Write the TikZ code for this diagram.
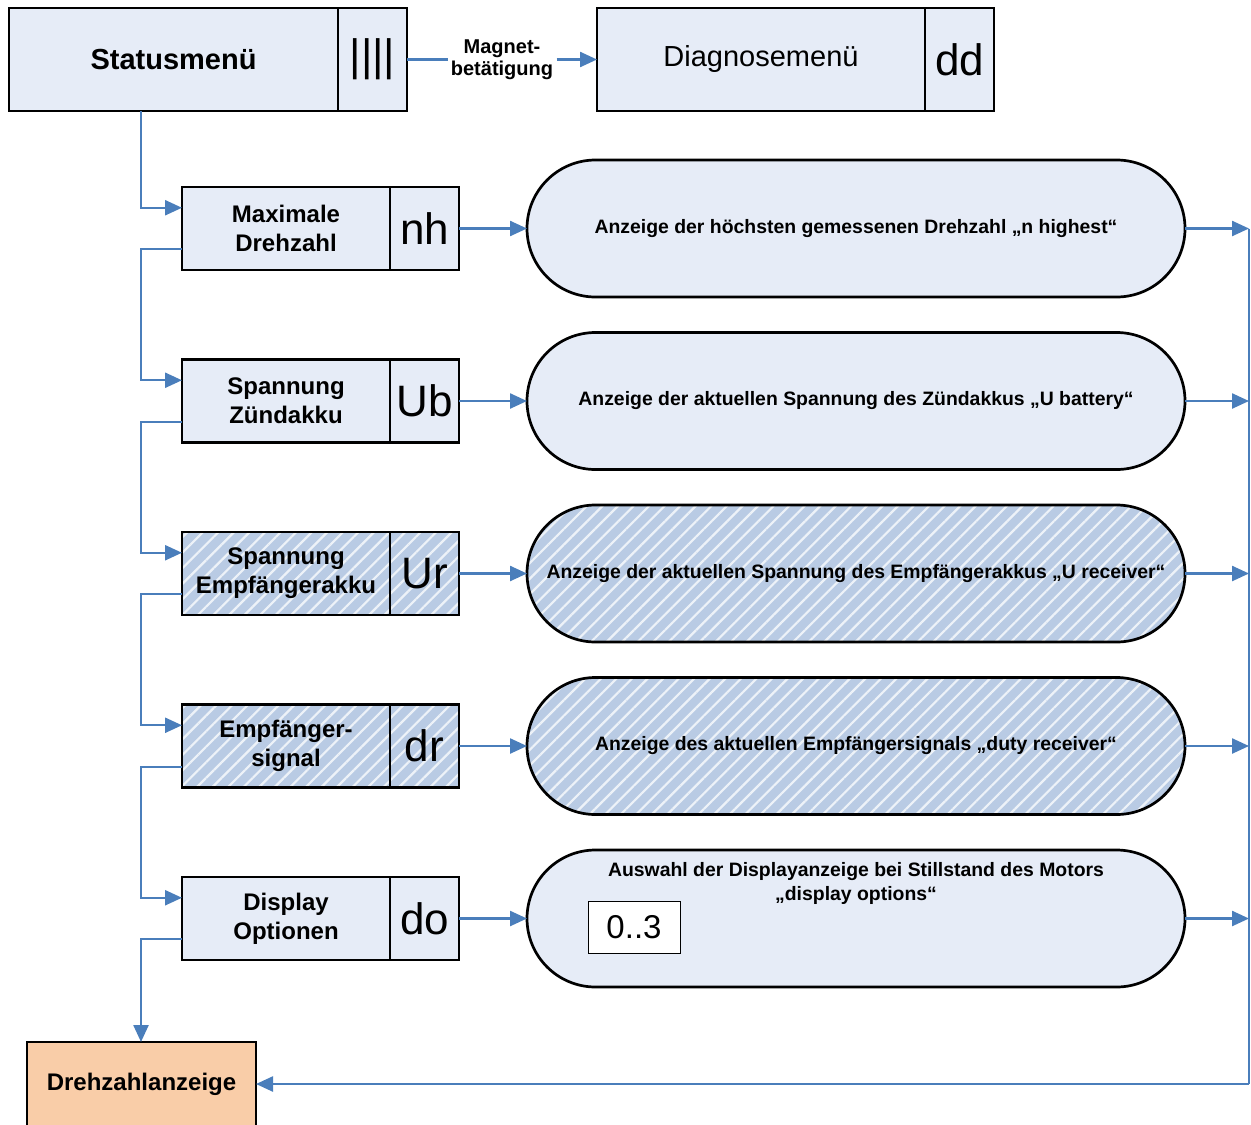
\documentclass[tikz,border=0pt]{standalone}
\usepackage{fontspec}
\setmainfont{Liberation Sans}
\usetikzlibrary{arrows.meta}
\usetikzlibrary{calc}
\usetikzlibrary{patterns.meta}

\begin{document}
\begin{tikzpicture}[x=0.5pt, y=-0.5pt,
    box/.style={draw, line width=1.35pt, inner sep=0pt, outer sep=0pt, align=center, minimum height=41.5pt},
    plain/.style={fill=boxblue},
    hatched/.style={preaction={fill=hatchblue}, pattern={Lines[angle=45, distance=5.5pt, line width=1.1pt]}, pattern color=white!75!hatchblue},
    lbl/.style={box, minimum width=104pt, font=\bfseries\fontsize{12}{14.5}\selectfont},
    code/.style={box, minimum width=34.5pt, anchor=west, font=\fontsize{22}{24}\selectfont},
    oval/.style={draw, line width=1.35pt, outer sep=0pt, rounded corners=34.25pt, minimum width=329pt, minimum height=68.5pt, align=center, font=\bfseries\fontsize{9.7}{12}\selectfont},
    flow/.style={draw=lineblue, line width=1.2pt, -{Triangle[length=8.5pt, width=7.5pt]}},
    wire/.style={draw=lineblue, line width=1.2pt}]
        \definecolor{boxblue}{HTML}{E6ECF7}
        \definecolor{hatchblue}{HTML}{B9CBE4}
        \definecolor{lineblue}{HTML}{4A7EBB}
        \definecolor{peach}{HTML}{F9CDA8}

        \clip (0,0) rectangle (1251,1124);

        % Menus on top
        \node[lbl, plain, minimum width=164.5pt, minimum height=51.5pt, font=\bfseries\fontsize{14.5}{17}\selectfont] (status) at (173.5,59.5) {Statusmenü};
        \node[code, plain, minimum height=51.5pt] (code-status) at (status.east) {||||};
        \node[lbl, plain, minimum width=164pt, minimum height=51.5pt, font=\fontsize{14.5}{17}\selectfont] (diag) at (761,59.5) {Diagnosemenü};
        \node[code, plain, minimum height=51.5pt] (code-diag) at (diag.east) {dd};
        \node[font=\bfseries\fontsize{10}{11}\selectfont, align=center, inner sep=1.5pt] (magnet) at (502,59.5) {Magnet-\\betätigung};

        % Menu items
        \node[lbl, plain] (max) at (286,228.5) {Maximale\\Drehzahl};
        \node[code, plain] (code-max) at (max.east) {nh};
        \node[oval, plain] (info-max) at (856,228.5) {Anzeige der höchsten gemessenen Drehzahl „n highest“};

        \node[lbl, plain] (ub) at (286,401) {Spannung\\Zündakku};
        \node[code, plain] (code-ub) at (ub.east) {Ub};
        \node[oval, plain] (info-ub) at (856,401) {Anzeige der aktuellen Spannung des Zündakkus „U battery“};

        \node[lbl, hatched] (ur) at (286,573.5) {Spannung\\Empfängerakku};
        \node[code, hatched] (code-ur) at (ur.east) {Ur};
        \node[oval, hatched] (info-ur) at (856,573.5) {Anzeige der aktuellen Spannung des Empfängerakkus „U receiver“};

        \node[lbl, hatched] (dr) at (286,746) {Empfänger-\\signal};
        \node[code, hatched] (code-dr) at (dr.east) {dr};
        \node[oval, hatched] (info-dr) at (856,746) {Anzeige des aktuellen Empfängersignals „duty receiver“};

        \node[lbl, plain] (dopt) at (286,918.5) {Display\\Optionen};
        \node[code, plain] (code-dopt) at (dopt.east) {do};
        \node[oval, plain] (info-dopt) at (856,918.5) {};
        \node[align=center, font=\bfseries\fontsize{9.7}{12}\selectfont] (dopttext) at (856,883) {Auswahl der Displayanzeige bei Stillstand des Motors\\„display options“};
        \node[draw, line width=0.5pt, fill=white, minimum width=46pt, minimum height=26pt, font=\fontsize{16.5}{18}\selectfont] (range) at (634,927) {0..3};

        % Back to the display
        \node[lbl, fill=peach, minimum width=114.5pt, minimum height=42pt] (rpm) at (141.5,1084) {Drehzahlanzeige};

        \coordinate (bus) at (141,0);
        \coordinate (rail) at (1249,0);

        % Connectors
        \draw[wire] (code-status.east) -- (magnet.west);
        \draw[flow] (magnet.east) -- (diag.west);
        \draw[flow] (status.south -| bus) |- ($(max.north west)!0.25!(max.south west)$);
        \foreach \a/\b in {max/ub, ub/ur, ur/dr, dr/dopt} {
            \coordinate (out) at ($(\a.north west)!0.75!(\a.south west)$);
            \coordinate (in) at ($(\b.north west)!0.25!(\b.south west)$);
            \draw[flow] (out) -- (out -| bus) |- (in);
        }
        \coordinate (out) at ($(dopt.north west)!0.75!(dopt.south west)$);
        \draw[flow] (out) -- (out -| bus) -- (rpm.north -| bus);

        \foreach \n in {max, ub, ur, dr, dopt} {
            \draw[flow] (code-\n.east) -- (info-\n.west);
            \draw[flow] (info-\n.east) -- (info-\n.east -| rail);
        }
        \draw[wire, line width=0.8pt] (info-max.east -| rail) -- (rail |- rpm.east);
        \draw[flow] (rail |- rpm.east) -- (rpm.east);
\end{tikzpicture}
\end{document}
